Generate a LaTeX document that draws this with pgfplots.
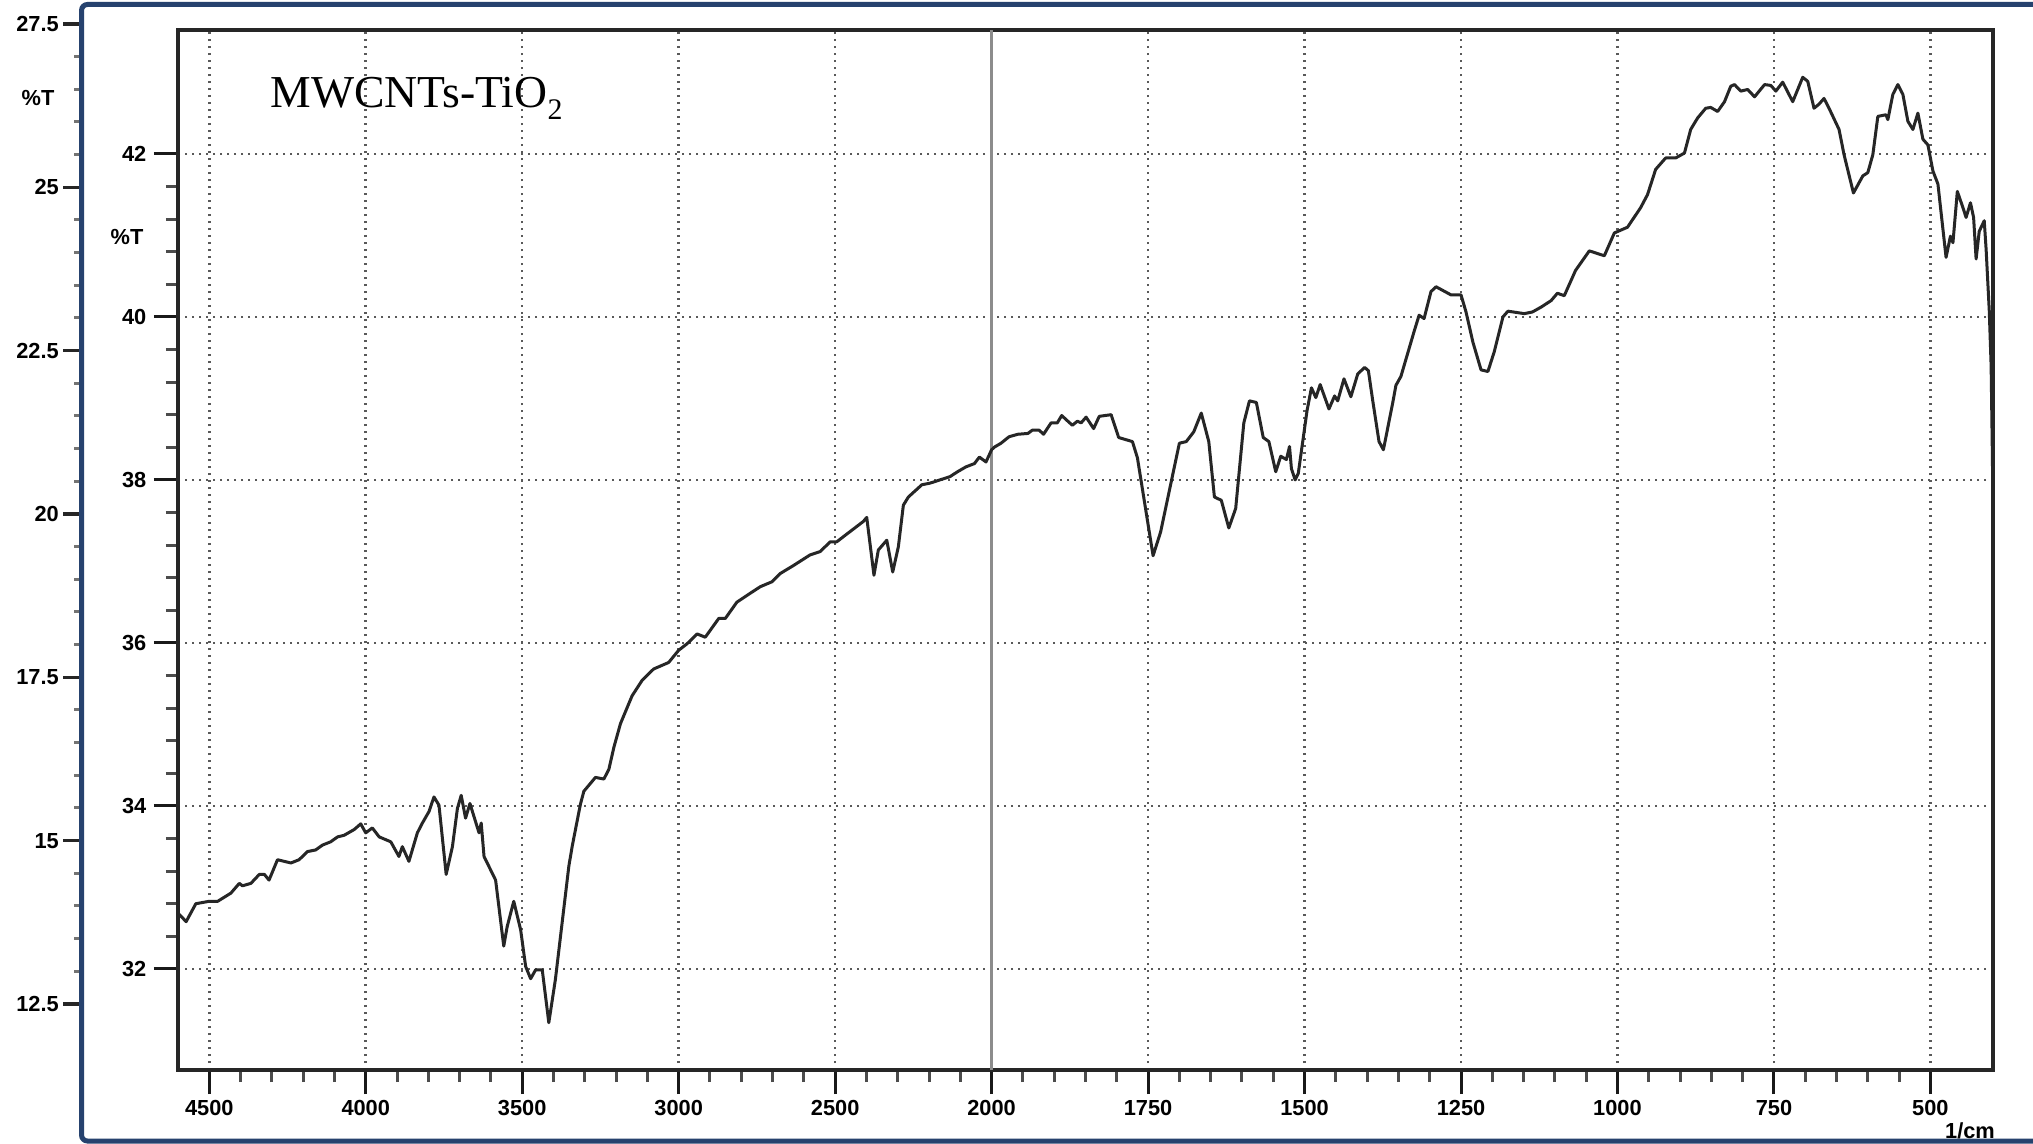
\documentclass[border=0pt]{standalone}
\usepackage{pgfplots}
\usepackage{pgfplotstable}
\pgfplotsset{compat=1.18}
\usepackage{fontspec}
\setmainfont{Liberation Serif}
\setsansfont{Liberation Sans}
\definecolor{frameblue}{RGB}{38,66,110}
\newcommand\tf{\fontsize{6.2}{7}\selectfont\sffamily\bfseries}

\pgfplotstableread{
w t
4596 32.67
4574 32.58
4543 32.80
4500 32.83
4473 32.83
4431 32.93
4404 33.05
4394 33.02
4367 33.05
4340 33.16
4324 33.16
4309 33.09
4282 33.34
4239 33.30
4213 33.34
4186 33.44
4160 33.46
4138 33.52
4112 33.56
4090 33.62
4069 33.64
4037 33.71
4016 33.78
4000 33.67
3979 33.73
3957 33.62
3920 33.56
3894 33.38
3883 33.50
3862 33.32
3835 33.67
3819 33.79
3798 33.93
3782 34.11
3766 34.01
3743 33.16
3723 33.50
3707 33.97
3695 34.13
3681 33.85
3667 34.03
3638 33.67
3631 33.79
3622 33.38
3585 33.09
3559 32.28
3548 32.52
3527 32.83
3505 32.48
3489 32.03
3473 31.88
3457 31.99
3436 31.99
3415 31.34
3394 31.87
3351 33.26
3340 33.51
3314 34.02
3303 34.18
3266 34.35
3239 34.33
3223 34.45
3207 34.72
3186 35.01
3149 35.35
3117 35.54
3080 35.68
3032 35.76
3000 35.91
2973 35.99
2941 36.11
2915 36.07
2872 36.30
2851 36.30
2814 36.50
2771 36.61
2739 36.69
2702 36.75
2676 36.85
2633 36.95
2580 37.08
2548 37.12
2516 37.24
2495 37.24
2468 37.32
2410 37.49
2399 37.54
2376 36.83
2362 37.14
2335 37.26
2316 36.87
2298 37.18
2282 37.69
2266 37.79
2223 37.94
2197 37.96
2133 38.04
2109 38.10
2082 38.16
2055 38.20
2039 38.28
2018 38.22
2000 38.37
1996 38.40
1985 38.45
1972 38.53
1958 38.56
1942 38.57
1935 38.61
1924 38.61
1917 38.56
1905 38.70
1895 38.70
1888 38.79
1881 38.74
1871 38.67
1863 38.72
1857 38.70
1849 38.77
1837 38.63
1828 38.78
1809 38.80
1797 38.52
1775 38.47
1767 38.27
1742 37.07
1730 37.36
1700 38.45
1689 38.47
1677 38.59
1665 38.82
1653 38.47
1644 37.79
1633 37.75
1621 37.41
1610 37.65
1597 38.70
1588 38.97
1577 38.95
1566 38.52
1557 38.47
1546 38.10
1538 38.29
1529 38.25
1524 38.41
1521 38.14
1515 38.00
1510 38.08
1496 38.85
1489 39.13
1482 39.01
1475 39.17
1461 38.87
1452 39.03
1447 38.97
1437 39.24
1426 39.02
1415 39.30
1404 39.38
1398 39.34
1391 38.97
1381 38.47
1374 38.37
1359 38.95
1354 39.16
1346 39.27
1325 39.82
1317 40.02
1309 39.98
1298 40.31
1290 40.37
1266 40.27
1250 40.27
1242 40.06
1231 39.69
1218 39.35
1207 39.33
1197 39.57
1183 40.00
1175 40.07
1149 40.04
1136 40.06
1122 40.12
1106 40.20
1096 40.29
1085 40.26
1067 40.57
1045 40.81
1021 40.75
1005 41.03
984 41.10
963 41.34
952 41.50
939 41.81
923 41.95
907 41.95
893 42.01
883 42.30
872 42.44
859 42.56
851 42.57
840 42.52
829 42.64
819 42.83
813 42.85
803 42.77
792 42.79
781 42.70
765 42.85
755 42.84
747 42.77
736 42.88
720 42.64
704 42.94
696 42.89
686 42.56
678 42.61
670 42.68
662 42.56
646 42.30
638 41.99
623 41.52
608 41.73
600 41.77
592 41.99
584 42.46
571 42.48
568 42.42
560 42.73
552 42.85
544 42.73
536 42.40
528 42.30
520 42.50
512 42.18
504 42.11
496 41.79
488 41.63
475 40.73
468 40.99
464 40.91
457 41.54
448 41.34
443 41.22
436 41.40
431 41.22
427 40.71
422 41.05
414 41.18
411 40.83
406 40.08
403 39.40
401 38.30
400 37.60
}\ftir

\begin{document}
\begin{tikzpicture}
\useasboundingbox (0,0) rectangle (20.33,11.43);
\clip (0,0) rectangle (20.33,11.43);
\fill[white] (0,0) rectangle (20.33,11.43);

% outer (left) scale
\begin{axis}[
  at={(0.81cm,0cm)}, anchor=south west, scale only axis,
  width=0.5cm, height=11.43cm,
  xmin=0, xmax=1, ymin=10.372, ymax=27.867,
  axis x line=none, axis y line*=left,
  y axis line style={draw=none},
  ytick={12.5,15,17.5,20,22.5,25,27.5},
  minor y tick num=4,
  tick align=outside,
  major tick length=1.8mm, minor tick length=0.7mm,
  every major tick/.append style={black!85, line width=0.35mm},
  every minor tick/.append style={black!55, line width=0.3mm},
  /pgf/number format/assume math mode=true,
  yticklabel style={font=\tf, inner sep=1pt},
]
\end{axis}

% main spectrum axis
\begin{axis}[
  at={(1.78cm,0.73cm)}, anchor=south west, scale only axis,
  width=18.15cm, height=10.40cm,
  x dir=reverse,
  xmin=1400, xmax=4300, ymin=30.76, ymax=43.52,
  xtick={1500,1750,2000,2250,2500,2750,3000,3250,3500,3750,4000,4250},
  xticklabels={500,750,1000,1250,1500,1750,2000,2500,3000,3500,4000,4500},
  minor x tick num=4,
  ytick={32,34,36,38,40,42},
  minor y tick num=4,
  xtick pos=left, ytick pos=left,
  tick align=outside,
  major tick length=2.4mm, minor tick length=1.2mm,
  every major tick/.append style={black!90, line width=0.3mm},
  every minor tick/.append style={black!70, line width=0.3mm},
  grid=major,
  major grid style={line width=0.25mm, black!65, dash pattern=on 0.25mm off 0.45mm},
  axis line style={line width=0.35mm, black!85},
  /pgf/number format/assume math mode=true,
  tick label style={font=\tf},
  yticklabel style={inner sep=2pt},
  xticklabel style={inner sep=1.5pt},
]
\draw[black!45, line width=0.3mm] (axis cs:3000,30.76) -- (axis cs:3000,43.52);
\addplot[black!85, line width=0.3mm, line join=round, no marks]
  table[x expr={min(\thisrow{w},2000)+max(\thisrow{w},2000)/2}, y=t] {\ftir};
\end{axis}

% frame of the figure
\draw[frameblue, line width=0.5mm, rounded corners=0.6mm] (0.815,0.02) rectangle (21,11.385);

% texts
\node[anchor=base west, inner sep=0pt] at (2.70,10.35)
  {\fontsize{13}{15}\selectfont MWCNTs-TiO\raisebox{-1.2mm}{\fontsize{8.5}{10}\selectfont 2}};
\node[font=\tf] at (0.38,10.45) {\%T};
\node[font=\tf] at (1.27,9.06) {\%T};
\node[font=\tf] at (19.70,0.12) {1/cm};
\end{tikzpicture}
\end{document}
